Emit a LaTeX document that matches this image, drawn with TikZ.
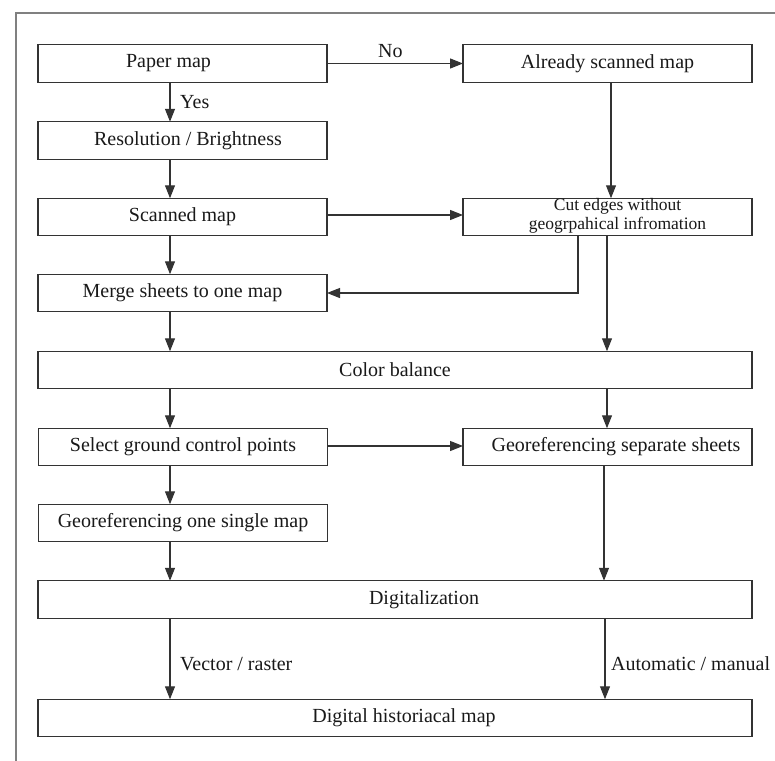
\documentclass[tikz,border=0pt]{standalone}
\usepackage{fontspec}
\setmainfont{Liberation Serif}
\usetikzlibrary{arrows.meta}
\begin{document}
\begin{tikzpicture}[x=1pt,y=-1pt,
  box/.style={draw=black!80, line width=1.2pt, fill=white, minimum height=37.5pt, inner sep=0pt, outer sep=0pt, font=\fontsize{20}{22}\selectfont, text=black!90},
  narrow/.style={box, minimum width=289pt},
  wide/.style={box, minimum width=714pt},
  lab/.style={font=\fontsize{20}{22}\selectfont, text=black!90, inner sep=0pt},
  small/.style={font=\fontsize{17.5}{19}\selectfont, text=black!90, inner sep=0pt, align=center},
  arr/.style={draw=black!80, line width=1.1pt, -{Triangle[length=13pt,width=10pt]}},
  frame/.style={draw=black!50, line width=1.5pt}]
\useasboundingbox (0,0) rectangle (775,760);
\fill[white] (0,0) rectangle (775,760);
\draw[frame] (16,762) -- (16,13) -- (777,13);

% boxes
\node[narrow, label={[lab,xshift=-14pt]center:Paper map}] (paper) at (182.5,63.5) {};
\node[narrow, label={[lab]center:Already scanned map}] (already) at (607.5,63.5) {};
\node[narrow, label={[lab,xshift=5.5pt]center:Resolution / Brightness}] (res) at (182.5,140.5) {};
\node[narrow, label={[lab]center:Scanned map}] (scanned) at (182.5,217) {};
\node[narrow, label={[small,xshift=10pt,yshift=1pt]center:Cut edges without\\geogrpahical infromation}] (cut) at (607.5,217) {};
\node[narrow, label={[lab]center:Merge sheets to one map}] (merge) at (182.5,293) {};
\node[wide, label={[lab]center:Color balance}] (color) at (395,370) {};
\node[narrow, label={[lab]center:Select ground control points}] (select) at (183,447) {};
\node[narrow, label={[lab,xshift=8.5pt]center:Georeferencing separate sheets}] (geosep) at (607.5,447) {};
\node[narrow, label={[lab]center:Georeferencing one single map}] (geoone) at (183,523) {};
\node[wide, label={[lab,xshift=29pt]center:Digitalization}] (digit) at (395,599.5) {};
\node[wide, label={[lab,xshift=9pt]center:Digital historiacal map}] (dhm) at (395,718) {};

% connectors
\draw[arr] (paper.east) -- (already.west);
\node[lab, anchor=south west] (no) at (378,58) {No};
\draw[arr] (paper.south -| 170,0) -- (res.north -| 170,0);
\node[lab, anchor=west] (yes) at (180,102) {Yes};
\draw[arr] (res.south -| 170,0) -- (scanned.north -| 170,0);
\draw[arr] (scanned.south -| 170,0) -- (merge.north -| 170,0);
\draw[arr] (scanned.east |- 0,215) -- (cut.west |- 0,215);
\draw[arr] (already.south -| 611,0) -- (cut.north -| 611,0);
\coordinate (bend) at (578,293);
\draw[arr] (cut.south -| bend) -- (bend) -- (merge.east |- bend);
\draw[arr] (cut.south -| 607,0) -- (color.north -| 607,0);
\draw[arr] (merge.south -| 170,0) -- (color.north -| 170,0);
\draw[arr] (color.south -| 170,0) -- (select.north -| 170,0);
\draw[arr] (color.south -| 607,0) -- (geosep.north -| 607,0);
\draw[arr] (select.east |- 0,446) -- (geosep.west |- 0,446);
\draw[arr] (select.south -| 170,0) -- (geoone.north -| 170,0);
\draw[arr] (geoone.south -| 170,0) -- (digit.north -| 170,0);
\draw[arr] (geosep.south -| 604,0) -- (digit.north -| 604,0);
\draw[arr] (digit.south -| 170,0) -- (dhm.north -| 170,0);
\node[lab, anchor=west] (vr) at (180,664) {Vector / raster};
\draw[arr] (digit.south -| 605,0) -- (dhm.north -| 605,0);
\node[lab, anchor=west] (am) at (611,664) {Automatic / manual};
\end{tikzpicture}
\end{document}
